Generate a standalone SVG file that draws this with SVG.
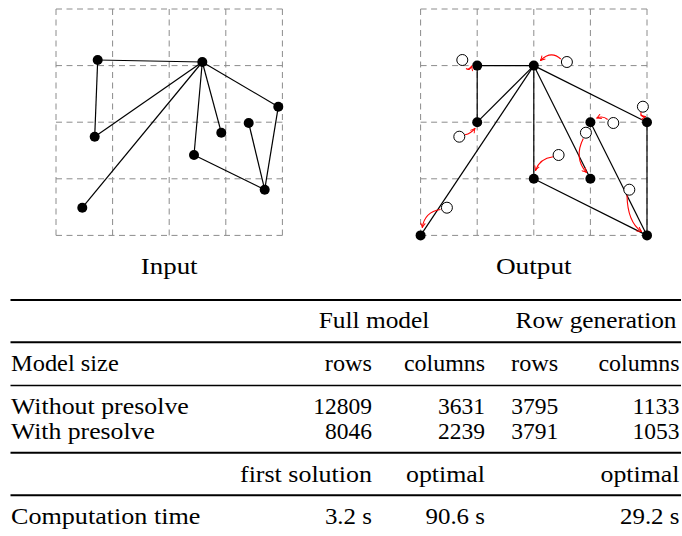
<svg xmlns="http://www.w3.org/2000/svg" width="682" height="536" viewBox="0 0 682 536">
<style>
.grid{stroke:#8c8c8c;stroke-width:1;stroke-dasharray:6 4.5;fill:none}
.e{stroke:#000;stroke-width:1.2;fill:none}
.n{fill:#000}
.o{fill:#fff;stroke:#000;stroke-width:1}
.r{stroke:#f00;stroke-width:1.1;fill:none;marker-end:url(#ah)}
.rule{stroke:#000;stroke-width:2}
.t{font-family:'Times New Roman',Times,'Liberation Serif','Nimbus Roman','FreeSerif','DejaVu Serif',serif;font-size:22.5px;fill:#000}
</style>
<defs>
<marker id="ah" viewBox="0 0 10 10" refX="9" refY="5" markerWidth="6" markerHeight="6" orient="auto" markerUnits="userSpaceOnUse">
<path d="M1.5,1 Q6,4 9,5 Q6,6 1.5,9" fill="none" stroke="#f00" stroke-width="1.6"/>
</marker>
</defs>
<g id="grid-left" class="grid">
<path d="M56,9V235.4M112.6,9V235.4M169.2,9V235.4M225.8,9V235.4M282.4,9V235.4"/>
<path d="M56,9H282.4M56,65.6H282.4M56,122.2H282.4M56,178.8H282.4M56,235.4H282.4"/>
</g>
<g id="grid-right" class="grid">
<path d="M420.6,9V235.4M477.2,9V235.4M533.8,9V235.4M590.4,9V235.4M647,9V235.4"/>
<path d="M420.6,9H647M420.6,65.6H647M420.6,122.2H647M420.6,178.8H647M420.6,235.4H647"/>
</g>
<g id="connectors">
<g id="edges-left" class="e">
<line x1="97.7" y1="60" x2="202.3" y2="62"/>
<line x1="97.7" y1="60" x2="94.7" y2="136.7"/>
<line x1="94.7" y1="136.7" x2="202.3" y2="62"/>
<line x1="82.3" y1="207.7" x2="202.3" y2="62"/>
<line x1="194" y1="155" x2="202.3" y2="62"/>
<line x1="221.3" y1="132.7" x2="202.3" y2="62"/>
<line x1="278.3" y1="106.7" x2="202.3" y2="62"/>
<line x1="278.3" y1="106.7" x2="264.7" y2="189.7"/>
<line x1="248.7" y1="123" x2="264.7" y2="189.7"/>
<line x1="194" y1="155" x2="264.7" y2="189.7"/>
</g>
<g id="edges-right" class="e">
<line x1="477.2" y1="65.6" x2="533.8" y2="65.6"/>
<line x1="477.2" y1="65.6" x2="477.2" y2="122.2"/>
<line x1="477.2" y1="122.2" x2="533.8" y2="65.6"/>
<line x1="420.6" y1="235.4" x2="533.8" y2="65.6"/>
<line x1="533.8" y1="178.8" x2="533.8" y2="65.6"/>
<line x1="590.4" y1="178.8" x2="533.8" y2="65.6"/>
<line x1="647" y1="122.2" x2="533.8" y2="65.6"/>
<line x1="647" y1="122.2" x2="647" y2="235.4"/>
<line x1="590.4" y1="122.2" x2="647" y2="235.4"/>
<line x1="533.8" y1="178.8" x2="647" y2="235.4"/>
</g>
</g>
<g id="nodes-left" class="n">
<g id="L-A"><circle cx="97.7" cy="60" r="5"/></g>
<g id="L-B"><circle cx="202.3" cy="62" r="5"/></g>
<g id="L-C"><circle cx="278.3" cy="106.7" r="5"/></g>
<g id="L-D"><circle cx="94.7" cy="136.7" r="5"/></g>
<g id="L-E"><circle cx="221.3" cy="132.7" r="5"/></g>
<g id="L-F"><circle cx="248.7" cy="123" r="5"/></g>
<g id="L-G"><circle cx="194" cy="155" r="5"/></g>
<g id="L-H"><circle cx="264.7" cy="189.7" r="5"/></g>
<g id="L-I"><circle cx="82.3" cy="207.7" r="5"/></g>
</g>
<g id="nodes-right" class="n">
<g id="R-A"><circle cx="477.2" cy="65.6" r="5"/></g>
<g id="R-B"><circle cx="533.8" cy="65.6" r="5"/></g>
<g id="R-C"><circle cx="647" cy="122.2" r="5"/></g>
<g id="R-D"><circle cx="477.2" cy="122.2" r="5"/></g>
<g id="R-E"><circle cx="590.4" cy="178.8" r="5"/></g>
<g id="R-F"><circle cx="590.4" cy="122.2" r="5"/></g>
<g id="R-G"><circle cx="533.8" cy="178.8" r="5"/></g>
<g id="R-H"><circle cx="647" cy="235.4" r="5"/></g>
<g id="R-I"><circle cx="420.6" cy="235.4" r="5"/></g>
</g>
<g id="original-positions" class="o">
<g id="O-A"><circle cx="462.3" cy="60" r="5.5"/></g>
<g id="O-B"><circle cx="566.9" cy="62" r="5.5"/></g>
<g id="O-C"><circle cx="642.9" cy="106.7" r="5.5"/></g>
<g id="O-D"><circle cx="459.3" cy="136.7" r="5.5"/></g>
<g id="O-E"><circle cx="585.9" cy="132.7" r="5.5"/></g>
<g id="O-F"><circle cx="613.3" cy="123" r="5.5"/></g>
<g id="O-G"><circle cx="558.6" cy="155" r="5.5"/></g>
<g id="O-H"><circle cx="629.3" cy="189.7" r="5.5"/></g>
<g id="O-I"><circle cx="446.9" cy="207.7" r="5.5"/></g>
</g>
<g id="moves" class="r">
<path d="M466,68.5 Q470,71 471.8,66"/>
<path d="M560.8,59 Q551,50 540.5,60.5"/>
<path d="M641,112 Q640,117.5 645.5,116.5"/>
<path d="M607.6,119.5 Q603,115.5 596.8,118"/>
<path d="M583.3,138.5 Q573.5,158 586.5,172.5"/>
<path d="M553.2,156.8 Q539.5,158.5 535.5,170.5"/>
<path d="M465,134.8 Q471,133.5 475,128.3"/>
<path d="M440.5,209.5 Q424.5,212 422.3,227.5"/>
<path d="M627,195.2 Q627.5,222 641.5,231.5"/>
</g>
<g id="captions" class="t">
<text x="169.2" y="274" text-anchor="middle" textLength="56.8" lengthAdjust="spacingAndGlyphs">Input</text>
<text x="533.8" y="274" text-anchor="middle" textLength="75.8" lengthAdjust="spacingAndGlyphs">Output</text>
</g>
<g id="table">
<line class="rule" x1="10.5" y1="300" x2="681" y2="300"/>
<line class="rule" x1="10.5" y1="342.3" x2="681" y2="342.3"/>
<line class="rule" x1="10.5" y1="385.5" x2="681" y2="385.5" style="stroke-width:1.7"/>
<line class="rule" x1="10.5" y1="452.7" x2="681" y2="452.7"/>
<line class="rule" x1="10.5" y1="495.2" x2="681" y2="495.2"/>
<g class="t">
<text x="374" y="328.3" text-anchor="middle" textLength="110.7" lengthAdjust="spacingAndGlyphs">Full model</text>
<text x="596" y="328.3" text-anchor="middle" textLength="161" lengthAdjust="spacingAndGlyphs">Row generation</text>
<text x="11" y="371" textLength="107.8" lengthAdjust="spacingAndGlyphs">Model size</text>
<text x="372" y="371" text-anchor="end" textLength="47.2" lengthAdjust="spacingAndGlyphs">rows</text>
<text x="485" y="371" text-anchor="end" textLength="81" lengthAdjust="spacingAndGlyphs">columns</text>
<text x="558.3" y="371" text-anchor="end" textLength="47.2" lengthAdjust="spacingAndGlyphs">rows</text>
<text x="679.5" y="371" text-anchor="end" textLength="81" lengthAdjust="spacingAndGlyphs">columns</text>
<text x="11" y="414" textLength="177.8" lengthAdjust="spacingAndGlyphs">Without presolve</text>
<text x="372" y="414" text-anchor="end" textLength="58.7" lengthAdjust="spacingAndGlyphs">12809</text>
<text x="485" y="414" text-anchor="end" textLength="47" lengthAdjust="spacingAndGlyphs">3631</text>
<text x="558.3" y="414" text-anchor="end" textLength="47" lengthAdjust="spacingAndGlyphs">3795</text>
<text x="679.5" y="414" text-anchor="end" textLength="47" lengthAdjust="spacingAndGlyphs">1133</text>
<text x="11" y="438.5" textLength="143.8" lengthAdjust="spacingAndGlyphs">With presolve</text>
<text x="372" y="438.5" text-anchor="end" textLength="47" lengthAdjust="spacingAndGlyphs">8046</text>
<text x="485" y="438.5" text-anchor="end" textLength="47" lengthAdjust="spacingAndGlyphs">2239</text>
<text x="558.3" y="438.5" text-anchor="end" textLength="47" lengthAdjust="spacingAndGlyphs">3791</text>
<text x="679.5" y="438.5" text-anchor="end" textLength="47" lengthAdjust="spacingAndGlyphs">1053</text>
<text x="372" y="481.5" text-anchor="end" textLength="132" lengthAdjust="spacingAndGlyphs">first solution</text>
<text x="485" y="481.5" text-anchor="end" textLength="79" lengthAdjust="spacingAndGlyphs">optimal</text>
<text x="679.5" y="481.5" text-anchor="end" textLength="79" lengthAdjust="spacingAndGlyphs">optimal</text>
<text x="11" y="523.5" textLength="189.3" lengthAdjust="spacingAndGlyphs">Computation time</text>
<text x="372" y="523.5" text-anchor="end" textLength="47.1" lengthAdjust="spacingAndGlyphs">3.2 s</text>
<text x="485" y="523.5" text-anchor="end" textLength="59.5" lengthAdjust="spacingAndGlyphs">90.6 s</text>
<text x="679.5" y="523.5" text-anchor="end" textLength="59.5" lengthAdjust="spacingAndGlyphs">29.2 s</text>
</g>
</g>
</svg>
